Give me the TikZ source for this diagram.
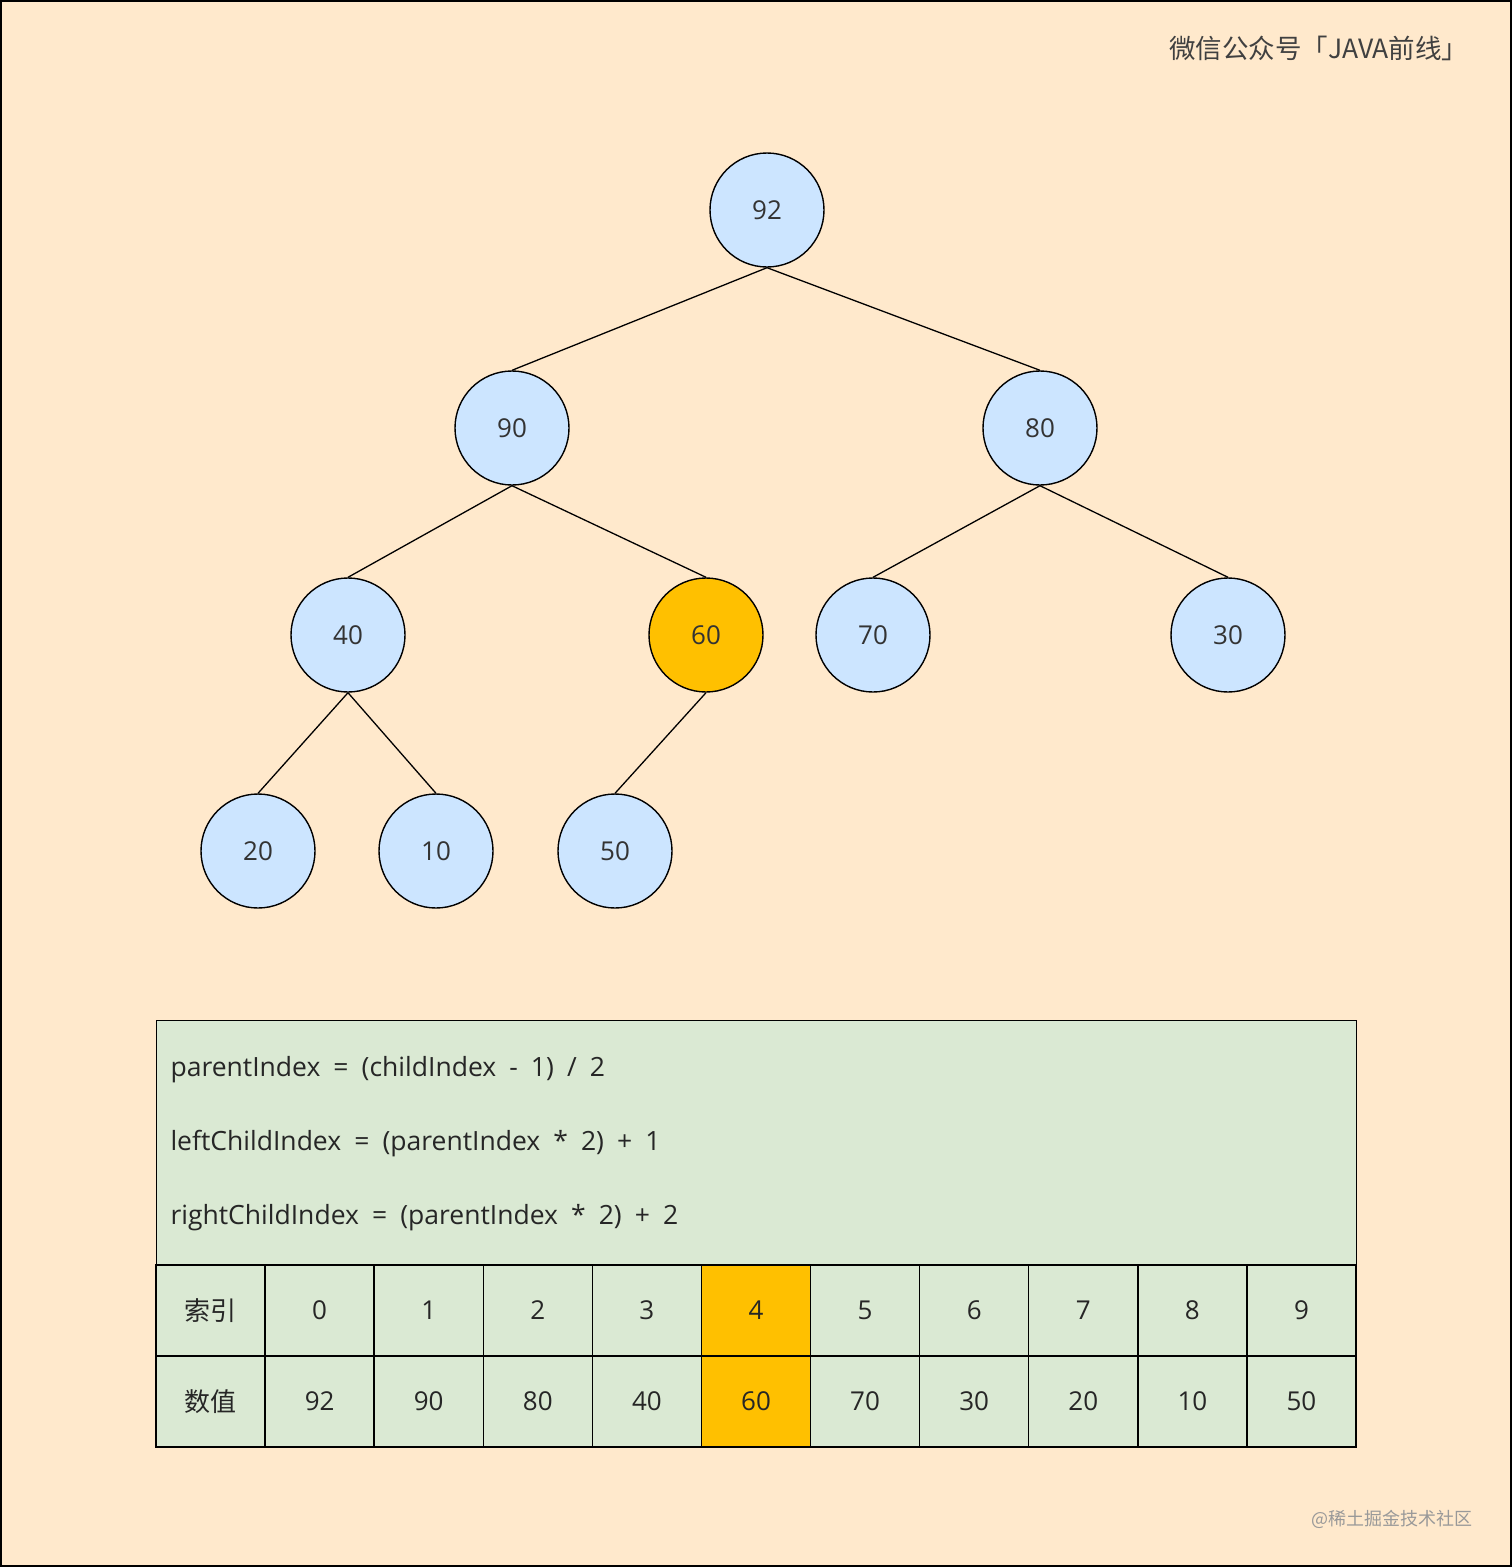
\documentclass[tikz,border=0pt]{standalone}
\usepackage{fontspec}
\setmainfont{Open Sans}
\newfontfamily\cjk{Noto Sans CJK SC}
\newfontfamily\fxf{Open Sans}[WordSpace=1.9]
\begin{document}
\begin{tikzpicture}[x=1pt,y=-1pt,
 nd/.style={circle,draw=black,line width=1.4pt,minimum size=114pt,inner sep=0pt,fill=blueF,font=\fontsize{26}{30}\selectfont,text=black!80},
 ed/.style={line width=1.3pt},
 cell/.style={draw=black,line width=1.4pt,fill=greenF,minimum width=109.1pt,minimum height=91pt,inner sep=0pt,font=\fontsize{26}{30}\selectfont,text=black!85},
 fx/.style={anchor=west,font=\fxf\fontsize{26.5}{30}\selectfont,text=black!85}]
\definecolor{bg}{HTML}{FFE9CC}
\definecolor{blueF}{HTML}{CCE5FF}
\definecolor{orangeF}{HTML}{FFC000}
\definecolor{greenF}{HTML}{DAE9D3}
\fill[bg] (0,0) rectangle (1512,1567);
\draw[line width=1.5pt] (1,1) rectangle (1511,1566);
\node[anchor=east,font=\cjk\fontsize{26.5}{30}\selectfont,text=black!75] (title) at (1472,48) {微信公众号「JAVA前线」};
\node[nd] (n92) at (767,210) {92};
\node[nd] (n90) at (512,428) {90};
\node[nd] (n80) at (1040,428) {80};
\node[nd] (n40) at (348,635) {40};
\node[nd,fill=orangeF] (n60) at (706,635) {60};
\node[nd] (n70) at (873,635) {70};
\node[nd] (n30) at (1228,635) {30};
\node[nd] (n20) at (258,851) {20};
\node[nd] (n10) at (436,851) {10};
\node[nd] (n50) at (615,851) {50};
\draw[ed] (n92.south)--(n90.north) (n92.south)--(n80.north)
 (n90.south)--(n40.north) (n90.south)--(n60.north)
 (n80.south)--(n70.north) (n80.south)--(n30.north)
 (n40.south)--(n20.north) (n40.south)--(n10.north)
 (n60.south)--(n50.north);
\node[draw=black,line width=1.4pt,fill=greenF,minimum width=1200pt,minimum height=245pt,inner sep=0pt,anchor=north west] (box) at (156,1020) {};
\node[fx] (f1) at (167,1070) {parentIndex = (childIndex - 1) / 2};
\node[fx] (f2) at (167,1144) {leftChildIndex = (parentIndex * 2) + 1};
\node[fx] (f3) at (167,1218) {rightChildIndex = (parentIndex * 2) + 2};
\foreach \i/\a/\b in {0/{\cjk 索引}/{\cjk 数值},1/0/92,2/1/90,3/2/80,4/3/40,5/4/60,6/5/70,7/6/30,8/7/20,9/8/10,10/9/50}{
  \ifnum\i=5
   \node[cell,fill=orangeF] (a\i) at ({156+109.09*\i+54.55},1310.5) {\a};
   \node[cell,fill=orangeF] (b\i) at ({156+109.09*\i+54.55},1401.5) {\b};
  \else
   \node[cell] (a\i) at ({156+109.09*\i+54.55},1310.5) {\a};
   \node[cell] (b\i) at ({156+109.09*\i+54.55},1401.5) {\b};
  \fi
}
\node[anchor=east,font=\cjk\fontsize{18}{22}\selectfont,text=black!40] (wm) at (1476,1519) {@稀土掘金技术社区};
\end{tikzpicture}
\end{document}
